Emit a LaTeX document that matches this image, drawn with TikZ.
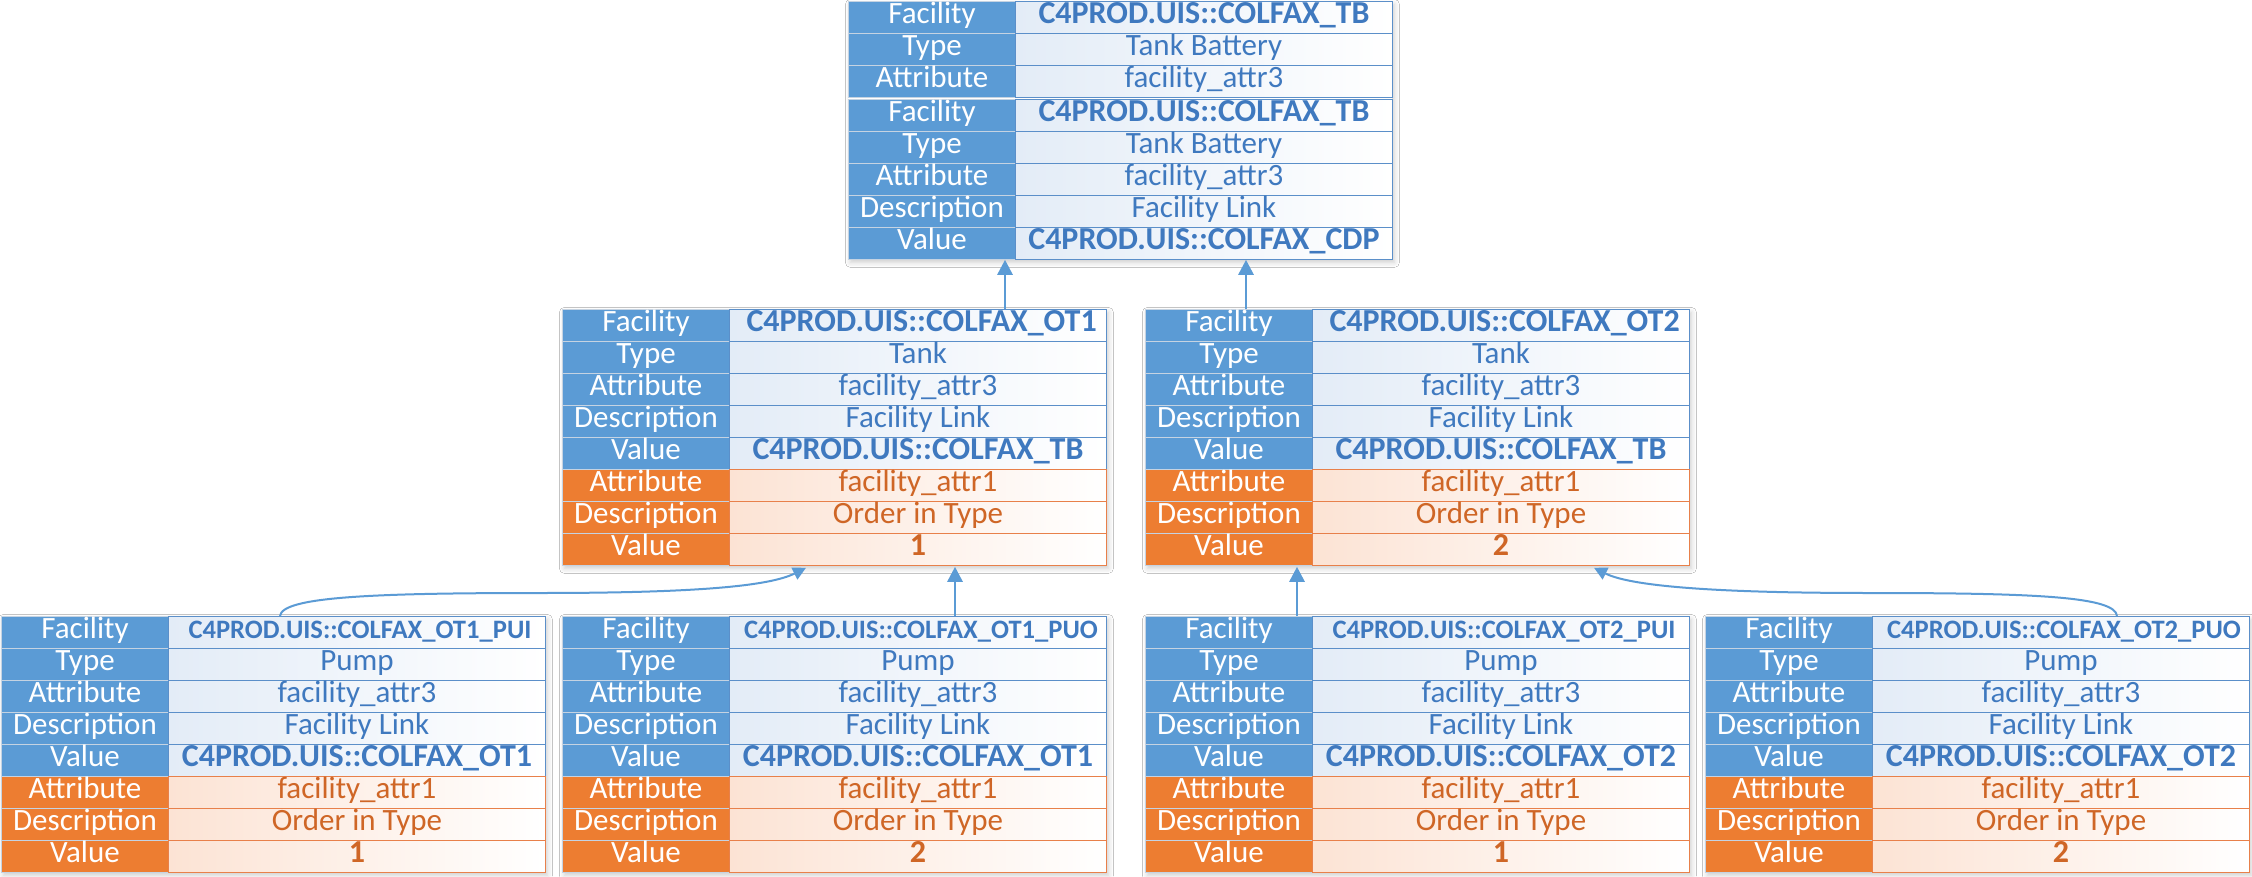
\documentclass[tikz,border=0pt]{standalone}
\usepackage{fontspec}
\setmainfont{Carlito}
\usetikzlibrary{arrows.meta,calc,shadows.blur}
\definecolor{labblue}{HTML}{5B9BD5}
\definecolor{laborange}{HTML}{ED7D31}
\definecolor{labline}{HTML}{C5D3E2}
\definecolor{valtb}{HTML}{3F79BF}
\definecolor{valto}{HTML}{CF6626}
\definecolor{tintb}{HTML}{E3ECF7}
\definecolor{tinto}{HTML}{FCE3D4}
\definecolor{bordb}{HTML}{5B8FC9}
\definecolor{bordo}{HTML}{E8804A}
\definecolor{arrowc}{HTML}{5B9BD5}
\newcommand\cellfont{\fontsize{15.5}{16}\selectfont}
\newcommand\cellbold{\fontsize{16}{16}\selectfont\bfseries}
\newcommand\cellsmall{\fontsize{13.3}{14}\selectfont\bfseries}
\tikzset{
 cell/.style={rectangle, inner sep=0pt, minimum height=16pt, text height=0.8em, text depth=0.2em, line width=0.5pt, anchor=north west},
 labb/.style={cell, fill=labblue, draw=labline, text=white, minimum width=83.5pt, font=\cellfont},
 labo/.style={labb, fill=laborange},
 valb/.style={cell, left color=tintb, right color=white, draw=bordb, text=valtb, minimum width=188.5pt, font=\cellfont},
 valo/.style={valb, left color=tinto, draw=bordo, text=valto},
 tablebox/.style={rectangle, inner sep=0pt, anchor=north west, minimum width=272pt, fill=white, blur shadow={shadow xshift=1pt, shadow yshift=-1.5pt, shadow blur radius=2.5pt, shadow opacity=20}},
 conn/.style={draw=arrowc, line width=1.4pt, -{Triangle[width=7.5pt,length=7.5pt]}},
 curveconn/.style={draw=arrowc, line width=1pt, -{Triangle[width=6.5pt,length=6.5pt]}},
}
% name, x, y(top), kind, label, value
\newcommand\frow[6]{%
  \node[lab#4] (#1l) at (#2,#3) {#5};
  \node[val#4] (#1v) at ($(#2,#3)+(167,0)$) {#6};}
% name, x, y, facility, type, value, order, facility font
\newcommand\ftable[8]{%
  \node[tablebox, minimum height=128pt] (#1) at (#2,#3) {};
  \frow{#1a}{#2}{#3}{b}{Facility}{#8 #4}
  \frow{#1b}{#2}{#3+32}{b}{Type}{#5}
  \frow{#1c}{#2}{#3+64}{b}{Attribute}{facility\_attr3}
  \frow{#1d}{#2}{#3+96}{b}{Description}{Facility Link}
  \frow{#1e}{#2}{#3+128}{b}{Value}{\cellbold #6}
  \frow{#1f}{#2}{#3+160}{o}{Attribute}{facility\_attr1}
  \frow{#1g}{#2}{#3+192}{o}{Description}{Order in Type}
  \frow{#1h}{#2}{#3+224}{o}{Value}{\cellbold #7}}
\begin{document}
\begin{tikzpicture}[x=0.5pt,y=-0.5pt]
\useasboundingbox (0,0) rectangle (2252,877);
\fill[white] (0,0) rectangle (2252,877);
% top table
\node[tablebox, minimum height=129pt] (T) at (848,1) {};
\frow{Ta}{848}{1}{b}{Facility}{\cellbold C4PROD.UIS::COLFAX\_TB}
\frow{Tb}{848}{33}{b}{Type}{Tank Battery}
\frow{Tc}{848}{65}{b}{Attribute}{facility\_attr3}
\frow{Td}{848}{99}{b}{Facility}{\cellbold C4PROD.UIS::COLFAX\_TB}
\frow{Te}{848}{131}{b}{Type}{Tank Battery}
\frow{Tf}{848}{163}{b}{Attribute}{facility\_attr3}
\frow{Tg}{848}{195}{b}{Description}{Facility Link}
\frow{Th}{848}{227}{b}{Value}{\cellbold C4PROD.UIS::COLFAX\_CDP}
% middle tables
\ftable{M1}{562}{309}{C4PROD.UIS::COLFAX\_OT1}{Tank}{C4PROD.UIS::COLFAX\_TB}{1}{\cellbold}
\ftable{M2}{1145}{309}{C4PROD.UIS::COLFAX\_OT2}{Tank}{C4PROD.UIS::COLFAX\_TB}{2}{\cellbold}
% bottom tables
\ftable{B1}{1}{616}{C4PROD.UIS::COLFAX\_OT1\_PUI}{Pump}{C4PROD.UIS::COLFAX\_OT1}{1}{\cellsmall}
\ftable{B2}{562}{616}{C4PROD.UIS::COLFAX\_OT1\_PUO}{Pump}{C4PROD.UIS::COLFAX\_OT1}{2}{\cellsmall}
\ftable{B3}{1145}{616}{C4PROD.UIS::COLFAX\_OT2\_PUI}{Pump}{C4PROD.UIS::COLFAX\_OT2}{1}{\cellsmall}
\ftable{B4}{1705}{616}{C4PROD.UIS::COLFAX\_OT2\_PUO}{Pump}{C4PROD.UIS::COLFAX\_OT2}{2}{\cellsmall}
% connectors
\draw[conn] ($(M1.north west)+(443,0)$) -- ($(T.south west)+(157,0)$);
\draw[conn] ($(M2.north west)+(101,0)$) -- ($(T.south west)+(398,0)$);
\draw[conn] ($(B2.north west)+(393,0)$) -- ($(M1.south west)+(393,1)$);
\draw[conn] ($(B3.north west)+(152,0)$) -- ($(M2.south west)+(152,1)$);
\coordinate (c1) at (540,593);
\coordinate (c2) at (1870,593);
\draw[curveconn] ($(B1.north west)+(279,0)$) .. controls +(2,-19) and +(-170,0) .. (c1) .. controls +(160,0) and +(-36,18) .. ($(M1.south west)+(244,2)$);
\draw[curveconn] ($(B4.north west)+(412,0)$) .. controls +(-2,-19) and +(170,0) .. (c2) .. controls +(-160,0) and +(36,18) .. ($(M2.south west)+(449,2)$);
\end{tikzpicture}
\end{document}
